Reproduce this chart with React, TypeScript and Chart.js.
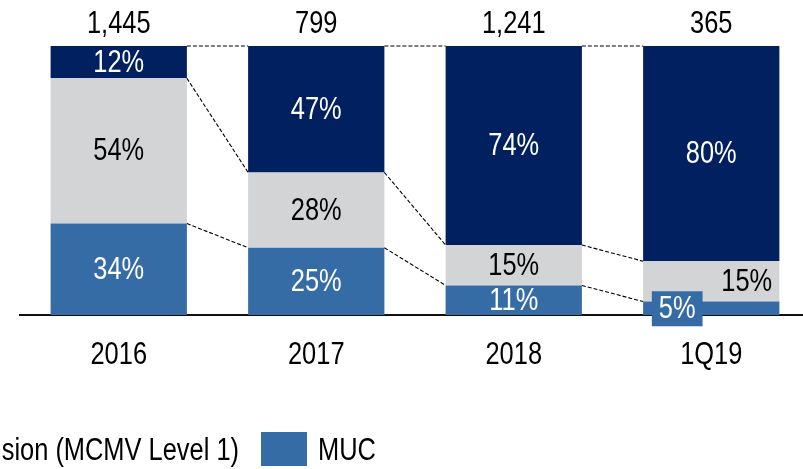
import React, { useEffect, useRef } from 'react';
import { Chart, registerables } from 'chart.js';

Chart.register(...registerables);

const categories = ['2016', '2017', '2018', '1Q19'];
const totals = [1445, 799, 1241, 365];
const mucShare = [34, 25, 11, 5];
const expansionShare = [54, 28, 15, 15];
const otherShare = [12, 47, 74, 80];

const seriesNames = ['MUC', 'Expansion (MCMV Level 1)', 'Other'];
const NAVY = '#00205F';
const GREY = '#D3D4D6';
const BLUE = '#366CA5';
const FONT = '"Liberation Sans", Arial, sans-serif';
const FS = 31;
const SX = 0.82; // horizontal condensing to mimic a narrow face

function drawText(ctx: CanvasRenderingContext2D, txt: string, x: number, y: number, align: CanvasTextAlign, color: string) {
  ctx.save();
  ctx.font = `${FS}px ${FONT}`;
  ctx.textBaseline = 'middle';
  ctx.textAlign = align;
  ctx.fillStyle = color;
  ctx.translate(x, y);
  ctx.scale(SX, 1);
  ctx.fillText(txt, 0, 0);
  ctx.restore();
}

function textWidth(ctx: CanvasRenderingContext2D, txt: string) {
  ctx.save();
  ctx.font = `${FS}px ${FONT}`;
  const w = ctx.measureText(txt).width * SX;
  ctx.restore();
  return w;
}

const overlayPlugin = {
  id: 'overlay',
  afterDatasetsDraw(chart: any) {
    const ctx = chart.ctx as CanvasRenderingContext2D;
    const metas = [0, 1, 2].map((i) => chart.getDatasetMeta(i));
    const n = categories.length;

    // dashed connectors between bars
    ctx.save();
    ctx.setLineDash([4, 2]);
    ctx.strokeStyle = '#000';
    ctx.lineWidth = 1.1;
    for (let i = 0; i < n - 1; i++) {
      for (const m of metas) {
        const a = m.data[i];
        const b = m.data[i + 1];
        ctx.beginPath();
        ctx.moveTo(a.x + a.width / 2, a.y);
        ctx.lineTo(b.x - b.width / 2, b.y);
        ctx.stroke();
      }
    }
    ctx.restore();

    // segment labels
    const colors = ['#fff', '#000', '#fff'];
    metas.forEach((m: any, di: number) => {
      const values = chart.data.datasets[di].data as number[];
      m.data.forEach((el: any, i: number) => {
        const v = values[i];
        const small = mucShare[i] < 8;
        let x = el.x;
        const y = (el.y + el.base) / 2;
        const txt = `${v}%`;
        if (small && di === 0) {
          x = el.x - el.width * 0.25;
          const w = textWidth(ctx, txt) + 14;
          ctx.fillStyle = BLUE;
          ctx.fillRect(x - w / 2, y - 17, w, 35);
        } else if (small && di === 1) {
          x = el.x + el.width * 0.26;
        }
        drawText(ctx, txt, x, y + 1, 'center', colors[di]);
      });
    });

    // totals
    const topMeta = metas[2];
    topMeta.data.forEach((el: any, i: number) => {
      drawText(ctx, totals[i].toLocaleString('en-US'), el.x, el.y - 22, 'center', '#000');
    });

    // category labels
    const xs = chart.scales.x;
    categories.forEach((c, i) => {
      drawText(ctx, c, xs.getPixelForTick(i), chart.chartArea.bottom + 40, 'center', '#000');
    });
  },
  afterDraw(chart: any) {
    const ctx = chart.ctx as CanvasRenderingContext2D;
    const ly = 451;
    drawText(ctx, seriesNames[1], 239, ly, 'right', '#000');
    ctx.save();
    ctx.fillStyle = BLUE;
    ctx.fillRect(261, 432, 46, 34);
    ctx.restore();
    drawText(ctx, seriesNames[0], 318, ly, 'left', '#000');
  },
};

export default function App() {
  const ref = useRef<HTMLCanvasElement | null>(null);
  useEffect(() => {
    if (!ref.current) return;
    const chart = new Chart(ref.current, {
      type: 'bar',
      data: {
        labels: categories,
        datasets: [
          { label: seriesNames[0], data: mucShare, backgroundColor: BLUE },
          { label: seriesNames[1], data: expansionShare, backgroundColor: GREY },
          { label: seriesNames[2], data: otherShare, backgroundColor: NAVY },
        ],
      },
      options: {
        responsive: false,
        animation: false,
        devicePixelRatio: 1,
        layout: { padding: { top: 46, left: 20, right: 0, bottom: 0 } },
        datasets: { bar: { barPercentage: 0.69, categoryPercentage: 1, borderWidth: 0 } },
        plugins: { legend: { display: false }, tooltip: { enabled: false } },
        scales: {
          x: {
            stacked: true,
            grid: { display: false },
            border: { display: true, color: '#111', width: 2 },
            ticks: { display: false },
            afterFit: (s: any) => {
              s.height = 154;
            },
          },
          y: { stacked: true, display: false, min: 0, max: 100 },
        },
      },
      plugins: [overlayPlugin],
    });
    return () => chart.destroy();
  }, []);
  return (
    <div style={{ position: 'absolute', left: 0, top: 0, width: 803, height: 469, overflow: 'hidden', background: '#fff' }}>
      <canvas ref={ref} width={810} height={469} style={{ display: 'block' }} />
    </div>
  );
}
